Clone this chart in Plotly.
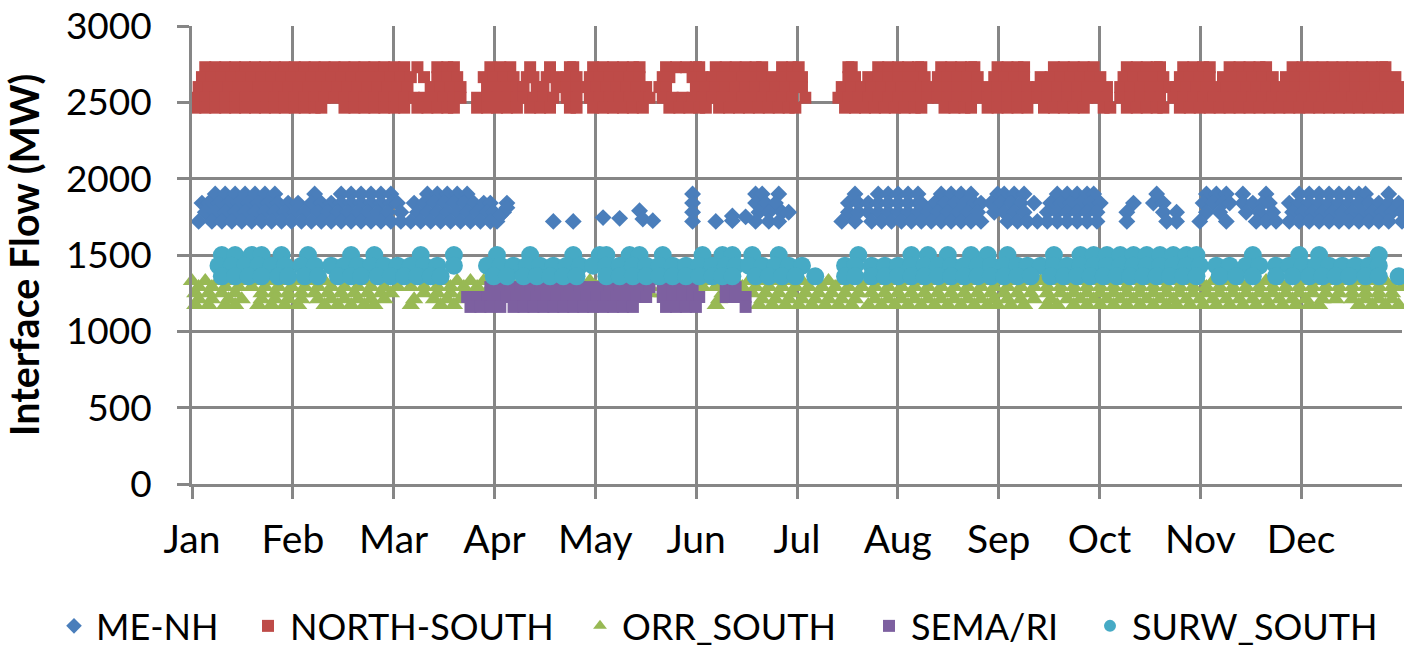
import plotly.graph_objects as go

months = ["Jan","Feb","Mar","Apr","May","Jun","Jul","Aug","Sep","Oct","Nov","Dec"]
month_start_days = [0,30.42,60.83,91.25,121.67,152.08,182.5,212.92,243.33,273.75,304.17,334.58]

# Each series is read row by row: a flow level (MW) and the days of the year seen at that level.
me_nh_levels = [1900,1840,1780,1720]
me_nh_days = [
 [7,10,13,16,19,22,25,37,45,48,51,54,57,60,71,74,77,80,83,151,170,172,177,200,207,210,213,216,219,226,229,232,235,243,245,248,251,261,264,267,270,272,291,306,309,312,317,324,334,337,340,343,346,349,352,354,361],
 [3,5,8,11,14,17,20,23,26,29,32,36,39,42,45,48,51,54,57,60,62,67,70,73,76,79,82,85,88,90,95,151,170,173,176,198,201,204,207,210,213,216,219,220,224,227,230,233,236,238,241,244,247,250,254,259,262,265,268,271,274,284,290,293,305,308,311,313,317,320,323,325,331,334,337,340,343,346,349,352,355,358,361,364],
 [4,7,10,13,16,19,22,25,28,31,34,38,41,44,47,50,53,56,59,63,68,71,74,77,80,83,86,89,91,94,151,171,174,178,180,198,201,204,207,210,213,216,219,222,225,228,231,234,237,242,245,248,251,258,261,264,267,270,273,282,293,297,306,310,318,322,326,332,335,338,341,344,347,350,353,356,359,362,365],
 [2,6,9,12,15,18,21,24,27,30,33,36,39,42,45,48,51,54,57,60,63,66,69,72,75,78,81,84,87,90,92,109,115,151,158,170,174,177,196,200,205,208,211,214,217,220,223,226,229,232,235,238,246,249,252,255,258,261,264,267,270,273,282,294,297,304,312,321,324,327,331,334,337,340,343,346,349,352,355,358,361,365],
]
me_nh_extra_days = [93,95,124,129,135,136,139,163,163,167]
me_nh_extra_mw = [1760,1810,1745,1740,1790,1735,1725,1755,1725,1750]

north_south_levels = [2730,2665,2600,2530,2465]
north_south_days = [
 [4,7,10,13,16,19,22,25,28,31,34,37,40,43,46,49,52,55,58,61,64,68,74,77,79,90,93,96,102,108,114,115,121,124,127,130,133,135,143,146,149,152,153,158,161,164,167,170,172,178,181,183,198,199,207,210,213,216,219,220,226,229,232,235,236,243,246,249,251,260,263,266,269,272,282,285,288,291,292,299,302,305,307,313,316,319,322,324,332,335,338,341,344,347,350,353,356,359,360],
 [3,6,9,12,15,18,21,24,27,30,33,36,39,42,45,48,51,54,57,60,63,66,70,74,77,80,88,91,94,97,101,103,107,110,113,116,120,123,126,129,132,135,142,144,151,154,157,160,163,166,169,172,175,178,181,184,198,200,204,207,210,213,216,219,221,225,228,231,234,237,242,245,248,251,256,259,262,265,268,271,274,281,284,287,290,293,298,301,304,307,311,314,317,320,323,326,330,333,336,339,342,345,348,351,354,357,360,363],
 [2,5,8,11,14,17,20,23,26,29,32,35,38,41,44,47,50,53,56,59,62,65,72,75,78,81,89,92,95,98,100,104,106,110,113,116,119,122,125,128,131,134,137,141,143,152,155,158,161,164,167,170,173,176,179,182,184,196,199,202,205,208,211,214,217,220,222,225,228,231,234,237,240,243,246,249,252,255,258,261,264,267,270,273,276,280,283,286,289,292,295,297,300,303,306,309,312,315,318,321,324,327,330,333,336,339,342,345,348,351,354,357,360,363,365],
 [1,4,7,10,13,16,19,22,25,28,31,34,37,40,43,46,49,52,55,58,61,64,67,70,73,76,79,81,86,89,92,95,98,100,103,106,109,113,116,120,123,126,129,132,135,138,142,145,148,151,154,157,160,163,166,169,172,175,178,181,185,195,198,201,204,207,210,213,216,219,222,225,228,231,234,237,240,243,246,249,252,255,258,261,264,267,270,273,276,280,283,286,289,292,296,299,302,305,308,311,314,317,320,323,326,329,332,335,338,341,344,347,350,353,356,359,362,365],
 [1,4,7,10,13,16,19,22,25,28,31,34,37,39,46,49,52,55,58,61,64,68,71,74,77,79,86,89,92,95,98,102,105,108,114,116,121,124,127,130,133,136,144,147,150,153,155,159,162,165,168,171,174,177,180,182,197,200,203,206,209,212,215,218,220,227,230,233,235,240,243,246,249,252,257,260,263,266,269,275,277,282,285,288,291,293,298,301,304,307,310,313,316,319,322,325,328,331,334,337,340,343,346,349,352,355,358,361,364],
]

orr_south_levels = [1330,1290,1250,1210,1173]
orr_south_days = [
 [0,4,8,12,16,20,24,28,32,36,40,44,48,52,56,60,64,68,72,76,80,84,88,92,96,100,104,108,112,116,120,124,128,132,136,140,144,148,152,156,160,164,168,172,176,180,184,188,192,196,200,204,208,212,216,220,224,228,232,236,240,244,248,252,256,260,264,268,272,276,280,284,288,292,296,300,304,308,312,316,320,324,328,332,336,340,344,348,352,356,360,364],
 [2,6,10,14,18,22,26,30,34,38,42,46,50,54,58,62,66,70,74,78,82,86,90,94,98,102,106,110,114,118,122,126,130,134,138,142,146,150,154,158,162,166,170,174,178,182,186,190,194,198,202,206,210,214,218,222,226,230,234,238,242,246,250,254,258,262,266,270,274,278,282,286,290,294,298,302,306,310,314,318,322,326,330,334,338,342,346,350,354,358,362,365],
 [1,5,9,13,21,25,29,33,37,41,45,49,53,57,60,70,74,78,82,86,90,94,98,102,106,110,114,118,122,126,130,134,138,142,146,150,160,169,173,177,181,185,189,193,197,201,205,209,213,217,221,225,229,233,237,241,245,249,253,258,262,266,270,274,278,282,286,290,294,298,302,306,310,314,318,322,326,330,334,338,342,346,350,354,358,362],
 [2,6,11,15,21,25,29,33,38,42,46,50,54,58,67,73,77,81,159,172,176,180,184,188,192,196,200,206,210,214,218,222,226,230,234,238,242,246,250,254,259,264,268,272,276,280,284,288,292,296,300,304,308,312,316,320,324,328,332,336,341,345,350,354,358,362],
 [1,5,10,13,20,24,28,32,40,44,48,52,55,66,75,79,158,171,175,179,183,187,191,195,199,204,208,212,216,220,224,228,232,236,240,243,247,251,258,261,266,270,274,278,282,286,290,294,297,301,305,309,313,317,321,325,329,333,337,340,352,356,360,364],
]

sema_ri_levels = [1290,1225,1160]
sema_ri_days = [
 [90,93,96,99,102,105,108,111,114,117,120,123,126,129,132,135,138,142,145,148,151,161,164],
 [83,86,89,92,95,98,101,104,107,110,113,116,119,122,125,128,131,134,137,142,145,148,151,153,161,164,167],
 [84,87,90,93,97,100,103,106,109,112,115,118,121,124,127,130,133,143,146,149,152,167],
]

surw_south_levels = [1500,1430,1360]
surw_south_days = [
 [9,13,18,21,27,35,48,55,69,79,92,102,115,123,125,132,135,142,154,160,163,169,177,201,217,222,228,235,240,246,260,268,272,276,280,284,288,292,296,300,303,320,334,340,358],
 [8,12,16,20,24,28,33,37,42,46,50,54,58,62,66,70,74,79,89,93,97,101,105,109,113,117,121,125,129,133,137,141,145,149,153,157,161,164,168,172,176,180,184,197,200,205,209,213,217,221,225,229,233,237,241,245,249,252,256,260,264,268,272,276,280,284,288,292,296,300,304,309,313,318,322,327,331,335,339,343,347,351,355,358],
 [9,13,17,21,26,29,34,38,44,48,51,56,60,64,68,72,75,91,95,100,104,108,112,116,125,129,133,137,141,145,149,153,157,160,163,170,174,178,182,188,197,200,205,209,213,217,221,225,229,233,237,241,245,249,253,259,263,267,271,275,279,283,287,291,295,299,303,310,315,320,327,332,337,341,345,349,354,358,364],
]

def flatten(levels, days):
    xs, ys = [], []
    for level, row in zip(levels, days):
        xs.extend(row)
        ys.extend([level] * len(row))
    return xs, ys

me_x, me_y = flatten(me_nh_levels, me_nh_days)
me_x += me_nh_extra_days
me_y += me_nh_extra_mw
ns_x, ns_y = flatten(north_south_levels, north_south_days)
orr_x, orr_y = flatten(orr_south_levels, orr_south_days)
sema_x, sema_y = flatten(sema_ri_levels, sema_ri_days)
surw_x, surw_y = flatten(surw_south_levels, surw_south_days)

fig = go.Figure()
series = [
    ("ME-NH", me_x, me_y, "diamond", 13, "#4A7EBB", "legend", 52),
    ("NORTH-SOUTH", ns_x, ns_y, "square", 12, "#BE4B48", "legend2", 246),
    ("ORR_SOUTH", orr_x, orr_y, "triangle-up", 16, "#98B954", "legend3", 578),
    ("SEMA/RI", sema_x, sema_y, "square", 12, "#7D60A0", "legend4", 867),
    ("SURW_SOUTH", surw_x, surw_y, "circle", 18, "#46AAC5", "legend5", 1088),
]
legends = {}
for name, x, y, sym, size, col, leg, leg_x in series:
    fig.add_trace(go.Scatter(x=x, y=y, name=name, mode="markers", cliponaxis=False, legend=leg,
                             marker=dict(symbol=sym, size=size, color=col, line=dict(width=0))))
    legends[leg] = dict(orientation="h", xref="container", yref="container", x=leg_x / 1404,
                        xanchor="left", y=0.034, yanchor="middle", font=dict(size=36),
                        itemsizing="constant", itemwidth=34, bgcolor="rgba(0,0,0,0)",
                        itemclick=False, itemdoubleclick=False)

grid = "#868686"
fig.update_layout(
    width=1404, height=648, margin=dict(l=192, r=2, t=26, b=164),
    paper_bgcolor="white", plot_bgcolor="white",
    font=dict(family="Lato", size=36, color="black"),
    showlegend=True,
    xaxis=dict(range=[0, 365], tickmode="array", tickvals=month_start_days, ticktext=months,
               tickfont=dict(size=39),
               showgrid=True, gridcolor=grid, gridwidth=2.75, ticks="outside", ticklen=12,
               tickwidth=2.75, tickcolor=grid, showline=True, linecolor=grid, linewidth=2.75,
               tickangle=0, ticklabelstandoff=7, zeroline=False),
    yaxis=dict(range=[0, 3000], tickvals=[0,500,1000,1500,2000,2500,3000],
               tickfont=dict(size=37),
               showgrid=True, gridcolor=grid, gridwidth=2.75, ticks="outside", ticklen=12,
               tickwidth=2.75, tickcolor=grid, showline=True, linecolor=grid, linewidth=2.75,
               ticklabelstandoff=18, zeroline=False,
               title=dict(text="<b>Interface Flow (MW)</b>", font=dict(size=39.5), standoff=15)),
    **legends,
)
fig.write_html("out.html", config={"displayModeBar": False},
               post_script="document.body.style.margin='0';document.body.style.overflow='hidden';")
